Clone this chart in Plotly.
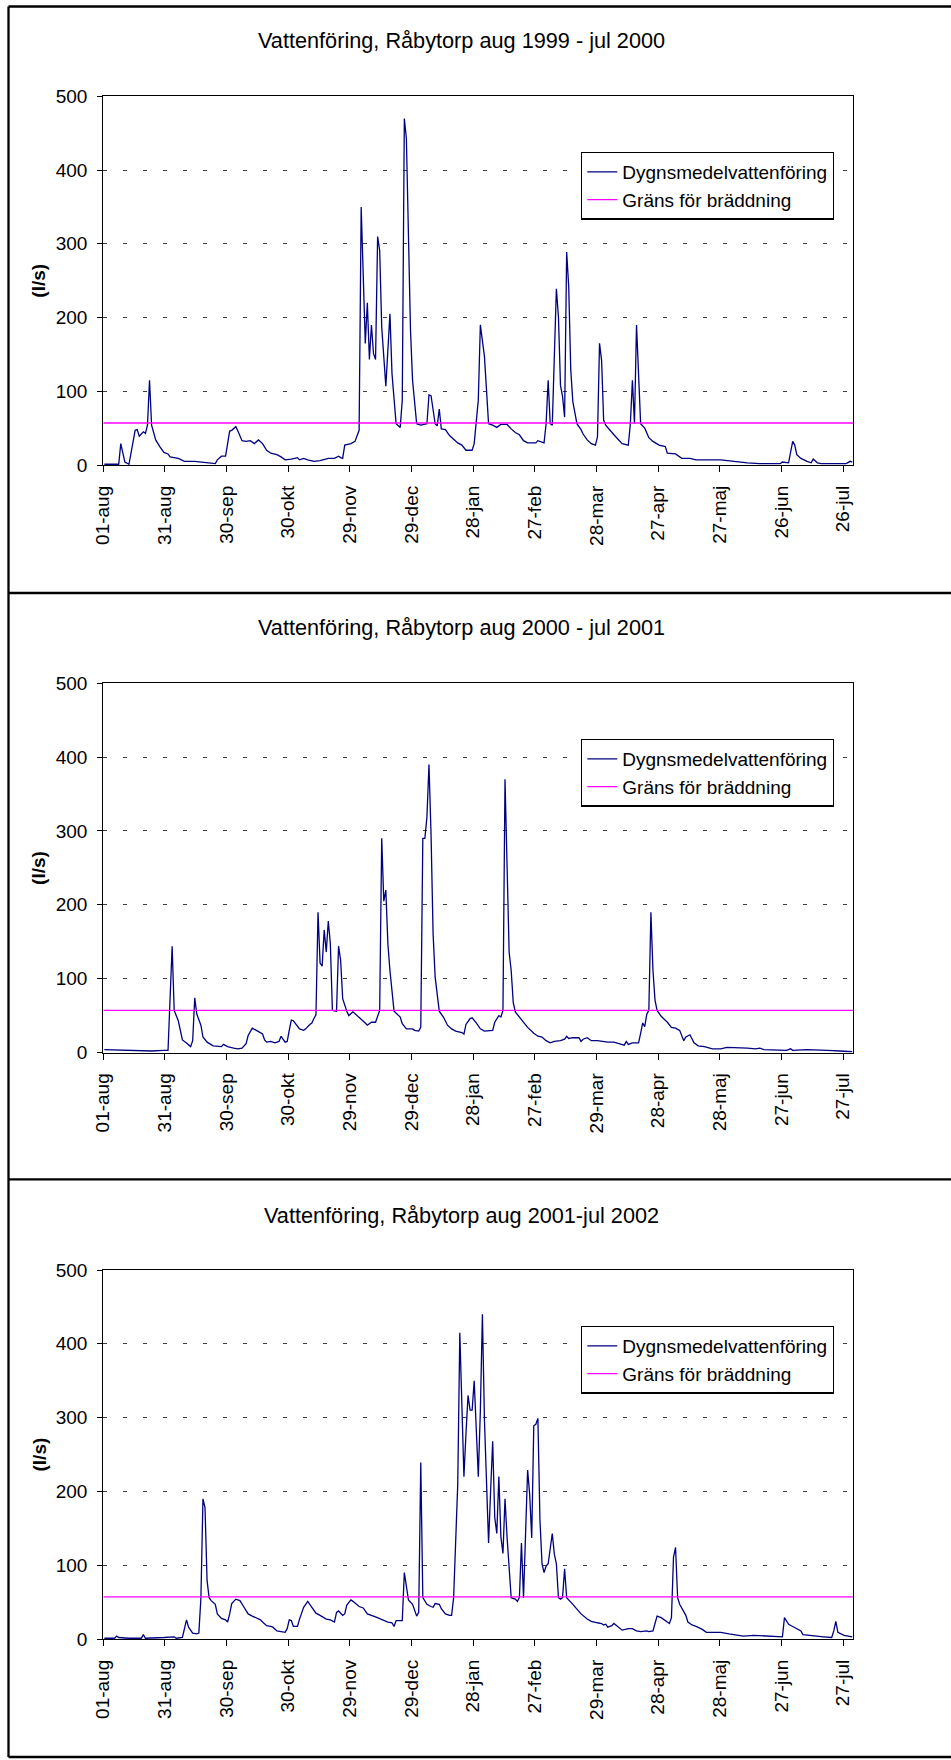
import datetime as dt
import plotly.graph_objects as go

# ---------------- data ----------------
titles = [
    "Vattenföring, Råbytorp aug 1999 - jul 2000",
    "Vattenföring, Råbytorp aug 2000 - jul 2001",
    "Vattenföring, Råbytorp aug 2001-jul 2002",
]
start_dates = ["1999-08-01", "2000-08-01", "2001-08-01"]
series_name = "Dygnsmedelvattenföring"
limit_name = "Gräns för bräddning"
limit_value = 57  # l/s
months_sv = ["jan", "feb", "mar", "apr", "maj", "jun", "jul", "aug", "sep", "okt", "nov", "dec"]

# day number after 1 August, daily mean flow (l/s)
days_1999 = [0, 7, 8, 10, 12, 15, 16, 17, 19, 20,
             21, 22, 23, 25, 27, 29, 31, 32, 36, 39,
             44, 49, 54, 55, 57, 59, 61, 62, 64, 65,
             67, 69, 71, 73, 75, 77, 79, 81, 84, 86,
             88, 91, 94, 95, 97, 99, 102, 105, 109, 112,
             114, 115, 116, 117, 120, 122, 124, 125, 127, 128,
             129, 130, 131, 132, 133, 134, 135, 137, 139, 140,
             142, 144, 145, 146, 147, 149, 150, 152, 154, 157,
             158, 159, 160, 161, 162, 163, 164, 166, 168, 170,
             172, 174, 176, 179, 180, 182, 183, 185, 187, 189,
             191, 193, 196, 198, 200, 202, 204, 206, 210, 211,
             214, 215, 216, 217, 218, 219, 220, 221, 222, 223,
             224, 225, 226, 227, 228, 230, 232, 233, 235, 237,
             239, 240, 241, 242, 243, 244, 246, 248, 250, 252,
             255, 256, 257, 258, 259, 260, 261, 263, 265, 267,
             270, 273, 274, 278, 281, 285, 288, 300, 306, 313,
             319, 329, 330, 333, 335, 336, 337, 339, 342, 344,
             345, 347, 349, 361, 363, 364]
flow_1999 = [1, 1, 29, 4, 1, 47, 48, 39, 45, 43,
             54, 115, 54, 34, 25, 17, 15, 11, 9, 5,
             5, 3, 2, 7, 12, 12, 46, 47, 52, 46,
             33, 32, 33, 29, 34, 29, 20, 16, 14, 11,
             7, 8, 10, 7, 9, 7, 5, 6, 9, 9,
             12, 10, 9, 27, 29, 32, 47, 350, 165, 220,
             143, 190, 151, 143, 310, 291, 187, 107, 205, 124,
             56, 51, 88, 470, 443, 183, 115, 56, 54, 56,
             95, 94, 75, 56, 53, 76, 49, 48, 40, 35,
             30, 27, 20, 20, 29, 88, 190, 147, 56, 54,
             51, 55, 55, 49, 44, 41, 33, 30, 30, 33,
             30, 56, 115, 56, 54, 147, 239, 201, 108, 93,
             65, 289, 242, 129, 86, 56, 48, 42, 34, 29,
             27, 38, 165, 142, 61, 54, 47, 41, 35, 29,
             27, 56, 115, 56, 190, 120, 56, 50, 37, 32,
             27, 25, 16, 15, 9, 9, 7, 7, 5, 3,
             2, 2, 4, 3, 32, 27, 14, 9, 5, 3,
             8, 3, 2, 2, 5, 4]

days_2000 = [0, 10, 19, 23, 29, 31, 33, 34, 36, 37,
             38, 40, 42, 43, 44, 45, 47, 48, 50, 53,
             55, 57, 58, 60, 63, 65, 67, 69, 70, 72,
             74, 77, 78, 79, 81, 83, 85, 86, 88, 89,
             90, 91, 92, 94, 95, 97, 98, 100, 101, 102,
             103, 104, 105, 106, 107, 108, 109, 110, 111, 113,
             114, 115, 116, 118, 119, 121, 124, 127, 128, 130,
             132, 133, 134, 135, 136, 137, 138, 139, 141, 144,
             145, 147, 150, 151, 153, 154, 155, 156, 157, 158,
             159, 160, 161, 163, 165, 167, 169, 171, 174, 175,
             176, 178, 179, 181, 183, 185, 189, 190, 192, 193,
             194, 195, 196, 197, 198, 199, 200, 202, 204, 206,
             209, 211, 213, 215, 217, 219, 222, 224, 225, 226,
             228, 231, 232, 233, 235, 237, 240, 242, 245, 248,
             251, 253, 254, 255, 257, 260, 261, 262, 263, 264,
             265, 266, 267, 268, 269, 271, 274, 276, 278, 280,
             282, 283, 285, 287, 289, 292, 296, 300, 303, 308,
             313, 317, 319, 321, 326, 332, 334, 335, 342, 345,
             352, 358, 364]
flow_2000 = [4, 3, 3, 2, 3, 3, 144, 57, 43, 30,
             17, 13, 8, 16, 74, 52, 37, 21, 14, 9,
             8, 8, 11, 8, 6, 5, 6, 12, 23, 33,
             30, 25, 17, 14, 15, 13, 15, 22, 14, 15,
             30, 44, 43, 36, 32, 30, 32, 38, 40, 46,
             51, 190, 121, 117, 166, 136, 178, 147, 57, 56,
             144, 125, 73, 56, 50, 55, 48, 40, 37, 41,
             41, 50, 57, 290, 205, 220, 147, 111, 56, 48,
             39, 32, 32, 30, 29, 34, 290, 290, 319, 390,
             296, 161, 102, 56, 48, 37, 32, 29, 27, 25,
             38, 46, 47, 40, 32, 29, 30, 41, 50, 48,
             57, 370, 229, 136, 111, 68, 55, 48, 41, 34,
             26, 22, 21, 16, 13, 15, 16, 18, 22, 19,
             20, 20, 15, 18, 20, 16, 16, 15, 14, 14,
             12, 10, 15, 11, 13, 13, 26, 40, 35, 52,
             57, 190, 111, 71, 57, 49, 41, 34, 33, 30,
             16, 21, 24, 13, 9, 8, 5, 5, 7, 7,
             6, 5, 6, 4, 4, 3, 5, 3, 4, 4,
             3, 2, 1]

days_2001 = [0, 5, 6, 7, 12, 18, 19, 20, 29, 34,
             35, 38, 40, 41, 43, 45, 46, 47, 48, 49,
             50, 51, 52, 54, 55, 57, 59, 60, 61, 62,
             64, 66, 68, 70, 72, 75, 76, 77, 79, 81,
             82, 84, 87, 88, 89, 90, 91, 92, 94, 95,
             97, 99, 101, 103, 105, 108, 110, 112, 113, 114,
             116, 117, 118, 120, 121, 124, 126, 128, 132, 135,
             138, 140, 141, 142, 145, 146, 147, 148, 150, 151,
             152, 153, 154, 155, 157, 159, 160, 161, 163, 164,
             166, 168, 169, 170, 171, 172, 173, 174, 175, 176,
             177, 178, 179, 180, 181, 182, 183, 184, 185, 186,
             187, 188, 189, 190, 191, 192, 193, 194, 195, 196,
             197, 198, 200, 201, 202, 203, 204, 205, 206, 207,
             208, 209, 210, 211, 212, 213, 214, 215, 216, 218,
             219, 220, 221, 222, 223, 224, 225, 228, 230, 232,
             235, 237, 240, 242, 243, 244, 245, 247, 248, 250,
             252, 255, 257, 259, 261, 264, 265, 267, 268, 269,
             271, 273, 275, 276, 277, 278, 279, 280, 283, 284,
             286, 288, 291, 293, 296, 299, 300, 304, 308, 311,
             316, 321, 326, 330, 331, 333, 335, 337, 339, 340,
             345, 350, 354, 355, 356, 357, 360, 364]
flow_2001 = [1, 1, 4, 2, 1, 1, 6, 1, 2, 3,
             1, 2, 26, 16, 8, 7, 8, 55, 190, 178,
             79, 56, 52, 47, 34, 28, 26, 23, 34, 48,
             54, 52, 43, 34, 31, 28, 26, 23, 18, 17,
             16, 11, 10, 9, 14, 26, 25, 17, 17, 27,
             43, 51, 43, 35, 32, 27, 26, 23, 36, 38,
             32, 34, 46, 53, 51, 44, 42, 34, 30, 26,
             23, 22, 17, 25, 25, 90, 72, 53, 47, 38,
             31, 36, 239, 56, 47, 44, 43, 48, 47, 41,
             34, 32, 32, 56, 129, 210, 415, 305, 220, 278,
             330, 310, 310, 350, 273, 220, 309, 440, 296, 210,
             130, 201, 268, 165, 143, 220, 138, 116, 190, 138,
             102, 56, 54, 51, 56, 130, 56, 142, 229, 196,
             137, 289, 291, 299, 162, 102, 90, 99, 102, 143,
             115, 102, 56, 54, 56, 95, 56, 47, 41, 34,
             27, 24, 22, 21, 19, 20, 16, 18, 21, 16,
             12, 14, 14, 11, 10, 11, 10, 11, 23, 31,
             29, 25, 21, 29, 111, 124, 56, 47, 32, 23,
             19, 17, 13, 9, 9, 8, 9, 7, 5, 4,
             5, 4, 4, 3, 29, 20, 17, 14, 11, 6,
             5, 3, 2, 11, 24, 9, 5, 3]

all_days = [days_1999, days_2000, days_2001]
all_flows = [flow_1999, flow_2000, flow_2001]
for d_, f_ in zip(all_days, all_flows):
    assert len(d_) == len(f_), (len(d_), len(f_))

# ---------------- layout helpers (pixels of a 951 x 1760 page) ----------------
W, H = 951, 1760
def px(x):
    return x / W
def py(y):
    return 1 - y / H

plot_left, plot_right = 103.3, 853.3
plot_boxes = [(96.4, 465.0), (683.3, 1052.5), (1270.0, 1639.0)]  # (top, bottom)
title_y = [40.2, 627.8, 1215.1]
legend_top = [151.7, 738.7, 1325.7]
legend_left = 581.0

FONT = "Arial, 'Liberation Sans', sans-serif"
NAVY = "#000080"
MAGENTA = "#FF00FF"

fig = go.Figure()
layout = dict(
    width=W, height=H,
    margin=dict(l=0, r=0, t=0, b=0),
    paper_bgcolor="white", plot_bgcolor="white",
    font=dict(family=FONT, size=19, color="black"),
    showlegend=True,
    annotations=[], shapes=[],
)

for i in range(3):
    start = dt.datetime.strptime(start_dates[i], "%Y-%m-%d")
    end = start + dt.timedelta(days=365)
    xs = [start + dt.timedelta(days=d, hours=12) for d in all_days[i]]
    xa = "x" if i == 0 else f"x{i+1}"
    ya = "y" if i == 0 else f"y{i+1}"
    lg = "legend" if i == 0 else f"legend{i+1}"

    fig.add_trace(go.Scatter(
        x=xs, y=all_flows[i], mode="lines", name=series_name,
        line=dict(color=NAVY, width=1.3), xaxis=xa, yaxis=ya, legend=lg,
        hoverinfo="skip",
    ))
    fig.add_trace(go.Scatter(
        x=[start, end], y=[limit_value, limit_value], mode="lines", name=limit_name,
        line=dict(color=MAGENTA, width=1.3), xaxis=xa, yaxis=ya, legend=lg,
        hoverinfo="skip",
    ))

    tickvals = [start + dt.timedelta(days=30 * k) for k in range(13)]
    ticktext = [f"{t.day:02d}-{months_sv[t.month - 1]}" for t in tickvals]

    top, bottom = plot_boxes[i]
    layout["xaxis" if i == 0 else f"xaxis{i+1}"] = dict(
        domain=[px(plot_left), px(plot_right)], anchor=ya, type="date",
        range=[start, end], tickmode="array", tickvals=tickvals, ticktext=ticktext,
        tickangle=-90, ticks="outside", ticklen=6, tickwidth=1.3, tickcolor="black",
        showline=True, linecolor="black", linewidth=1.3, mirror=True,
        showgrid=False, zeroline=False, tickfont=dict(size=19, family=FONT),
        ticklabelstandoff=6, automargin=False, fixedrange=True,
    )
    layout["yaxis" if i == 0 else f"yaxis{i+1}"] = dict(
        domain=[py(bottom), py(top)], anchor=xa, range=[0, 500],
        tick0=0, dtick=100, ticks="outside", ticklen=5, tickwidth=1.3, tickcolor="black",
        showline=True, linecolor="black", linewidth=1.3, mirror=True,
        showgrid=True, gridcolor="#404040", gridwidth=1.3, griddash="4px,16px",
        zeroline=False, tickfont=dict(size=19, family=FONT),
        ticklabelstandoff=6, automargin=False, fixedrange=True,
    )
    layout[lg] = dict(
        x=px(legend_left), y=py(legend_top[i]), xanchor="left", yanchor="top",
        xref="paper", yref="paper",
        bgcolor="white", bordercolor="black", borderwidth=1.3,
        font=dict(size=19, family=FONT, color="black"),
        tracegroupgap=0, itemwidth=30,
    )
    layout["annotations"].append(dict(
        text=titles[i], x=px(461), y=py(title_y[i]), xref="paper", yref="paper",
        xanchor="center", yanchor="middle", showarrow=False,
        font=dict(size=21.7, family=FONT, color="black"),
    ))
    layout["annotations"].append(dict(
        text="<b>(l/s)</b>", x=px(39), y=py((top + bottom) / 2), xref="paper", yref="paper",
        xanchor="center", yanchor="middle", showarrow=False, textangle=-90,
        font=dict(size=19, family=FONT, color="black"),
    ))

# panel frames
frame_lw = 2.3
frame_x0 = 8.5
frame_ys = [6.5, 593.0, 1179.4, 1757.0]
for y in frame_ys:
    layout["shapes"].append(dict(type="line", xref="paper", yref="paper",
                                 x0=px(frame_x0), x1=1.0, y0=py(y), y1=py(y),
                                 line=dict(color="black", width=frame_lw)))
layout["shapes"].append(dict(type="line", xref="paper", yref="paper",
                             x0=px(frame_x0), x1=px(frame_x0), y0=py(frame_ys[0]), y1=py(frame_ys[-1]),
                             line=dict(color="black", width=frame_lw)))

fig.update_layout(**layout)
fig.write_html("out.html", config={"displayModeBar": False},
               post_script="document.body.style.margin='0px';")
